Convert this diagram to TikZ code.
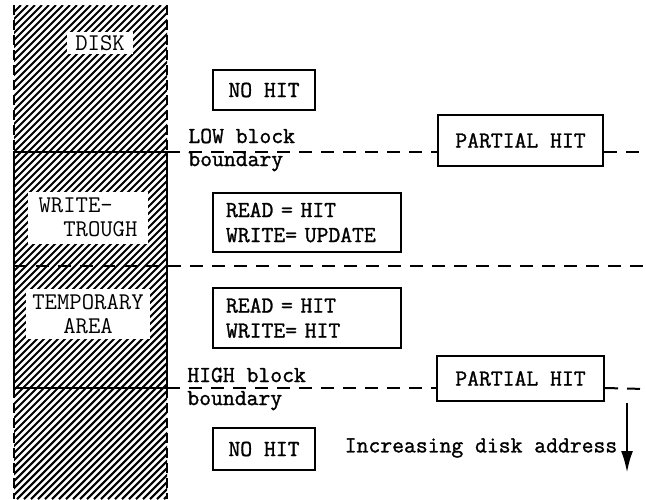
\documentclass[tikz,border=0pt]{standalone}
\usepackage{fontspec}
\newfontfamily\typew[FakeBold=1.3]{Latin Modern Mono}
\newfontfamily\typel{Latin Modern Mono}
\usetikzlibrary{arrows.meta}
\begin{document}
\begin{tikzpicture}[x=0.5pt,y=-0.5pt,font=\typew\fontsize{11.5}{12.5}\selectfont,
  box/.style={draw,line width=1pt,inner sep=0pt},
  tag/.style={fill=white,inner sep=0pt,font=\typel\fontsize{12}{12}\selectfont},
  bound/.style={line width=1pt,dash pattern=on 6.5pt off 4.5pt},
  edge/.style={line width=1.2pt,dash pattern=on 5pt off 2.5pt},
  hatch/.style={line width=1.05pt}]
\useasboundingbox (0,0) rectangle (646,499);
% hatched disk column
\begin{scope}
\clip (14,5) rectangle (167,499);
\foreach \i in {-494,-487,...,167}
  \draw[hatch] (\i,499) -- ++(494,-494);
\end{scope}
\coordinate (dtl) at (14,5);
\coordinate (dtr) at (167,5);
\coordinate (dbl) at (14,499);
\coordinate (dbr) at (167,499);
\coordinate (lowL) at (14,152);
\coordinate (lowR) at (167,152);
\coordinate (highL) at (14,388);
\coordinate (highR) at (167,388);
\draw[edge] (dtl) -- (lowL);
\draw[edge] (dtr) -- (lowR);
\draw[edge] (highL) -- (dbl);
\draw[edge] (highR) -- (dbr);
\draw[line width=1.3pt] (lowL) rectangle (highR);
% labels in the disk
\node[tag,minimum width=33pt,minimum height=11pt] (disk) at (100,43) {DISK};
\node[tag,minimum width=60pt,minimum height=26pt,align=left] (wt) at (88,217.5) {WRITE-\\\phantom{WR}TROUGH};
\node[tag,minimum width=62pt,minimum height=25pt,align=center] (tmp) at (88,314) {TEMPORARY\\AREA};
% boxes
\node[box,minimum width=51pt,minimum height=20pt] (nohitA) at (264,90) {NO HIT};
\node[box,minimum width=82.5pt,minimum height=25.5pt] (partA) at (520.5,140.5) {PARTIAL HIT};
\node[box,text width=81pt,inner xsep=6.5pt,minimum height=29.5pt,align=left] (rwA) at (307,222.5) {READ = HIT\\WRITE= UPDATE};
\node[box,text width=81pt,inner xsep=6.5pt,minimum height=30pt,align=left] (rwB) at (307,318) {READ = HIT\\WRITE= HIT};
\node[box,minimum width=83.5pt,minimum height=22.5pt] (partB) at (520.5,378.5) {PARTIAL HIT};
\node[box,minimum width=51pt,minimum height=21pt] (nohitB) at (264,449) {NO HIT};
% boundaries
\coordinate (lowE) at (646,152);
\coordinate (midL) at (14,266);
\coordinate (midR) at (646,266);
\coordinate (highE) at (646,389);
\draw[bound] (lowR) -- (lowR -| partA.west);
\draw[bound] (lowR -| partA.east) -- (lowE);
\draw[bound] (midL) -- (midR);
\draw[bound] (highR) -- (highR -| partB.west);
\draw[bound] (highR -| partB.east) -- (highE);
\node[anchor=west,align=left,inner sep=0pt,font=\typew\fontsize{11.5}{11.5}\selectfont] (lowtxt) at (188,150) {LOW block\\boundary};
\node[anchor=west,align=left,inner sep=0pt,font=\typew\fontsize{11.5}{11.5}\selectfont] (hightxt) at (187,389) {HIGH block\\boundary};
% address direction
\node (incr) at (481,448) {Increasing disk address};
\coordinate (arrS) at (627,403);
\coordinate (arrE) at (627,473);
\draw[line width=1.4pt,-{Latex[length=11pt,width=6pt]}] (arrS) -- (arrE);
\end{tikzpicture}
\end{document}
